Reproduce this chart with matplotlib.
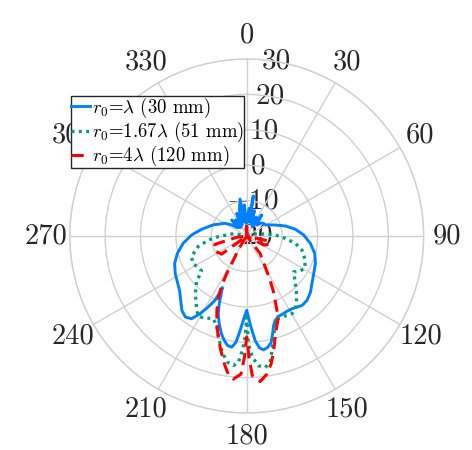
import numpy as np
import matplotlib
matplotlib.use('Agg')
import matplotlib.pyplot as plt

plt.rcParams['font.family'] = 'cmr10'
plt.rcParams['mathtext.fontset'] = 'cm'
plt.rcParams['axes.formatter.use_mathtext'] = True
plt.rcParams['axes.unicode_minus'] = False

# angles in degrees, clockwise from top; gain in dB
theta_a = [0, 2, 5.4, 7.3, 9.4, 13, 17, 22, 27, 31, 35.5, 42.3, 48, 54, 59,
           68.8, 75.4, 82.1, 89, 96.6, 104.4, 111.8, 119.25, 126.1, 131.3,
           136.8, 141.4, 144.7, 148.1, 151.8, 155.8, 158.8, 161.4, 163.3, 165.2,
           167, 169.3, 171.6, 173.5, 175.4, 177.3, 178.8, 180, 181.7, 183.2,
           184.5, 185.8, 187.7, 189.9, 192.1, 194.4, 197.4, 200.1, 202.1, 203.5,
           205.3, 205.6, 206.3, 208.5, 211.1, 213.7, 217.1, 221, 225.7, 231,
           236.5, 242.3, 249.1, 255.9, 263.4, 271, 278.4, 288.3, 300.3, 306.3,
           312, 317, 322, 326, 330, 336.2, 340, 344, 349.7, 352.5, 355.6, 358.5,
           360]
gain_a = [-15.8, -15, -12.1, -16, -8.5, -16, -12.5, -16.5, -14, -17, -12.7,
          -15.8, -14.5, -14, -13.9, -11.4, -8.75, -6.1, -3.9, -1.9, -0.15, 0.9,
          1.7, 2.8, 4.0, 4.9, 5.1, 4.6, 4.2, 4.1, 4.3, 4.4, 5.2, 6.4, 8.6, 10.8,
          12.0, 12.5, 11.8, 9.6, 5.8, 2.9, 1.0, 2.9, 5.3, 7.7, 10.2, 11.7, 11.4,
          10.2, 8.6, 6.0, 3.4, 0.6, -1.7, -3.9, -2.0, 0.3, 2.8, 5.7, 8.1, 8.7,
          7.9, 6.05, 4.4, 3.5, 2.8, 1.8, 0.2, -1.9, -4.4, -7.1, -10.0, -12.9,
          -14.7, -16.5, -13.8, -17, -14.5, -17, -13, -16.5, -12.5, -9.4, -16,
          -11.2, -16.5, -15.8]

theta_b = [0, 40, 65, 76.5, 83.8, 88, 93.5, 98.6, 104.3, 112.4, 119.3, 123,
           127.4, 134.4, 140.5, 146.25, 149.8, 155.4, 160, 163, 165.4, 167.6,
           169.5, 172, 174.8, 177.3, 179.1, 180, 180.9, 182.2, 183.8, 185.9,
           188.6, 191.9, 195.1, 198.6, 202, 207.1, 211.1, 215.3, 221.7, 227.6,
           232.4, 242.9, 249.4, 257.6, 264, 268.7, 277.6, 290, 320, 360]
gain_b = [-19.5, -19.5, -18.5, -17.6, -14.8, -11.9, -9.1, -6.1, -3.9, -2.1,
          -1.2, -2.0, -3.3, -0.8, 2.3, 4.7, 5.4, 5.0, 4.9, 6.9, 10.0, 13.2, 16.3,
          17.5, 16.8, 14.3, 10.5, 3.0, 8.6, 12.4, 15.8, 16.8, 16.1, 13.6, 10.1,
          6.7, 5.2, 6.0, 6.55, 4.6, 1.8, -0.8, -3.9, -3.0, -3.3, -5.9, -9.1,
          -12.0, -15.7, -19, -19.5, -19.5]

theta_c = [0, 3, 60, 95, 103, 110, 118, 128, 137, 142.4, 149.1, 152.1, 154.4,
           157.9, 158.6, 161.4, 164.3, 166.8, 169.2, 171.7, 174.7, 177.7, 178.9,
           180, 181.1, 182.4, 185.35, 187.6, 189.9, 192.7, 195.7, 198.8, 201.85,
           204.4, 207, 208.3, 209.4, 212, 220, 230, 234.2, 245, 255.3, 262.4,
           270, 355, 360]
gain_c = [-17, -21, -21, -21, -14, -13, -14.6, -20, -20, -13.8, -9.85, -5.85,
          -2.5, 2.7, 4.6, 6.7, 9.7, 13.3, 16.8, 19.4, 21.3, 19.5, 14.3, 8.5,
          14.3, 19.05, 20.6, 19.4, 16.7, 13.2, 9.7, 6.2, 2.65, -0.55, -4.4,
          -9.0, -13.3, -16.4, -21, -20, -11.25, -10, -10.7, -17.1, -21, -21, -17]

labels = [r'$r_0$=$\lambda$ (30 mm)', r'$r_0$=1.67$\lambda$ (51 mm)',
          r'$r_0$=4$\lambda$ (120 mm)']
colors = ['#0080FF', '#00A07A', '#FF0000']

r_ticks = [-20, -10, 0, 10, 20, 30]
r_min, r_max = -20, 30

fig = plt.figure(figsize=(4.72, 4.5), dpi=100)
ax = fig.add_axes([0.1477, 0.0822, 0.75, 0.7867], projection='polar')
ax.set_theta_zero_location('N')
ax.set_theta_direction(-1)

grid_col = '#d0d0d0'
styles = [dict(ls='-', lw=2.1),
          dict(ls=(0, (0.9, 1.3)), lw=2.4),
          dict(ls=(0, (4, 2.2)), lw=2.2)]
for th, g, lab, c, st in zip([theta_a, theta_b, theta_c],
                             [gain_a, gain_b, gain_c], labels, colors, styles):
    r = np.clip(g, r_min, None)
    ax.plot(np.deg2rad(th), r, color=c, label=lab, zorder=3, **st)

ax.set_ylim(r_min, r_max)
ax.set_yticks(r_ticks)
ax.set_yticklabels([])
for v in r_ticks:
    ax.text(np.deg2rad(9.5), v, f'${v}$' if v < 0 else str(v), ha='center',
            va='center', fontsize=21, color='#262626', zorder=1)

ax.set_thetagrids(range(0, 360, 30), [str(a) for a in range(0, 360, 30)],
                  fontsize=20.5, color='#262626')
ax.tick_params(axis='x', pad=6.5)
ax.grid(True, color=grid_col, lw=1.0)
ax.spines['polar'].set_color(grid_col)
ax.spines['polar'].set_linewidth(1.0)

leg = ax.legend(loc='upper left', bbox_to_anchor=(0.150, 0.787),
                bbox_transform=fig.transFigure, fontsize=13.5, frameon=True,
                fancybox=False, edgecolor='#262626', framealpha=1,
                borderpad=0.0, labelspacing=0.0, handlelength=1.0,
                handletextpad=0.12, borderaxespad=0)
leg.get_frame().set_linewidth(1.0)
leg.set_zorder(5)

fig.savefig('out.png', dpi=100)
